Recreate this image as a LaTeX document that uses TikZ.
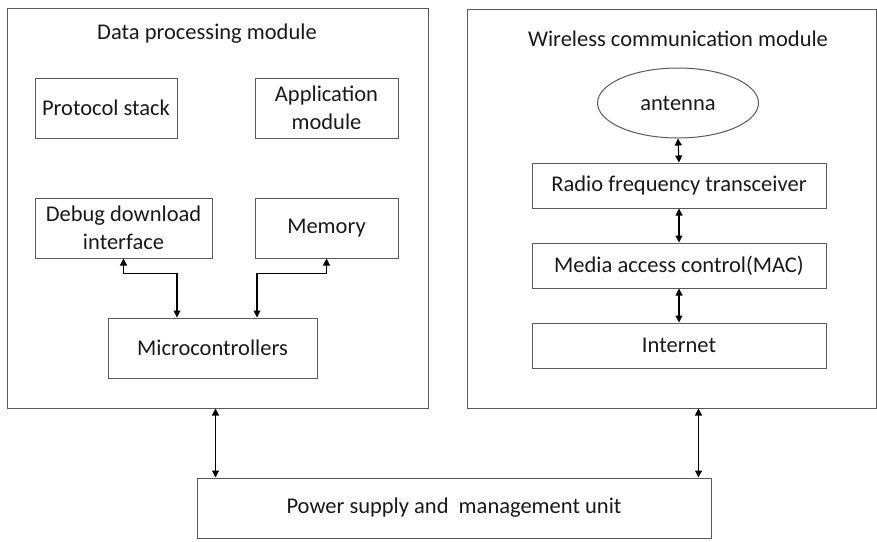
\documentclass[tikz,border=0pt]{standalone}
\usepackage{fontspec}
\setmainfont{Carlito}
\usetikzlibrary{arrows.meta,shapes.geometric}
\begin{document}
\begin{tikzpicture}[x=1pt,y=1pt]
  \tikzstyle{every node}=[font=\fontsize{22.5}{28}\selectfont,text=black!90]
  \tikzstyle{block}=[draw=black!65,line width=1pt,align=center,inner sep=0pt]
  \tikzstyle{biarrow}=[{Triangle[length=7pt,width=7pt]}-{Triangle[length=7pt,width=7pt]},line width=1.1pt]
  \useasboundingbox (0,0) rectangle (877,-541);
  % the two modules
  \node [block,minimum width=421,minimum height=400] (dp) at (217.5,-208) {};
  \node [block,minimum width=409,minimum height=399] (wc) at (671.5,-208.5) {};
  \node (dptitle) at (207,-34) {Data processing module};
  \node (wctitle) at (678,-39) {Wireless communication module};
  % data processing module
  \node [block,minimum width=142,minimum height=60] (stack) at (106,-108) {Protocol stack};
  \node [block,minimum width=143,minimum height=60] (app) at (326.5,-108) {Application\\module};
  \node [block,minimum width=177,minimum height=60] (dbg) at (123.5,-228) {Debug download\\interface};
  \node [block,minimum width=143,minimum height=60] (mem) at (326.5,-228) {Memory};
  \node [block,minimum width=209,minimum height=60] (mcu) at (212.5,-348) {Microcontrollers};
  \draw [biarrow] (dbg.south) -- ++(0,-15) -| ([xshift=-35.5]mcu.north);
  \draw [biarrow] (mem.south) -- ++(0,-15) -| ([xshift=44.5]mcu.north);
  % wireless communication module
  \node [block,ellipse,minimum width=161,minimum height=70] (ant) at (678,-103) {antenna};
  \node [block,minimum width=294,minimum height=45] (rf) at (679,-185.5) {Radio frequency transceiver};
  \node [block,minimum width=294,minimum height=45] (mac) at (679,-265.5) {Media access control(MAC)};
  \node [block,minimum width=294,minimum height=45] (net) at (679,-345.5) {Internet};
  \draw [biarrow] (ant.south) -- (rf.north);
  \draw [biarrow] (rf.south) -- (mac.north);
  \draw [biarrow] (mac.south) -- (net.north);
  % power unit
  \node [block,minimum width=514,minimum height=60] (pwr) at (454,-508) {Power supply and\ \ management unit};
  \draw [biarrow] ([xshift=19]pwr.north west) -- ([xshift=19]pwr.north west |- dp.south);
  \draw [biarrow] ([xshift=-13]pwr.north east) -- ([xshift=-13]pwr.north east |- wc.south);
\end{tikzpicture}
\end{document}
